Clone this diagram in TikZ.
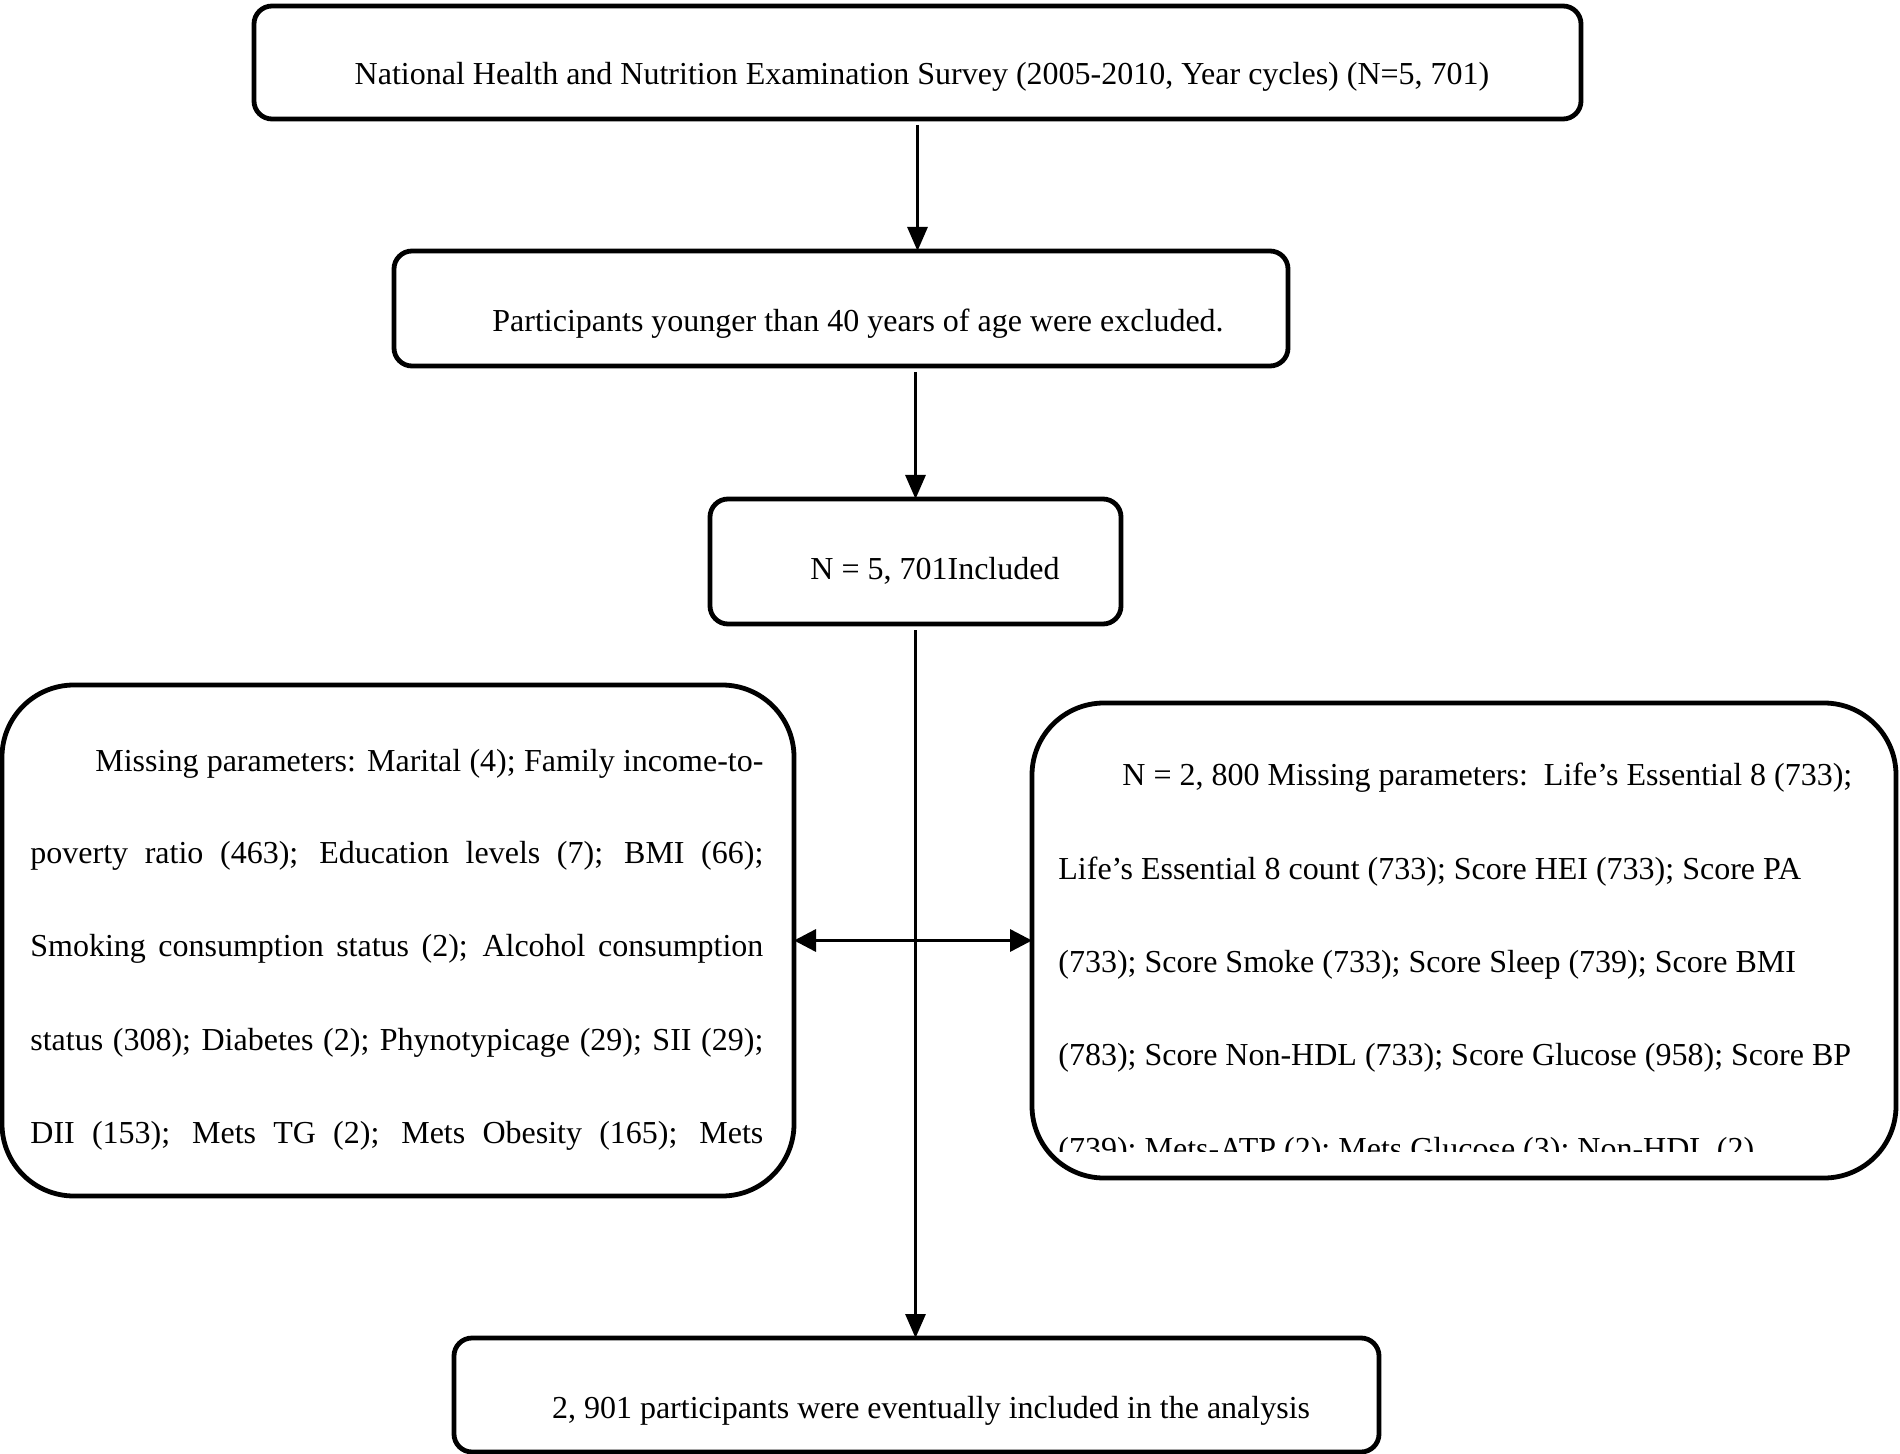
\documentclass[tikz,border=0pt]{standalone}
\usepackage{fontspec}
\setmainfont{Liberation Serif}
\usetikzlibrary{arrows.meta}
\begin{document}
\begin{tikzpicture}[x=0.5pt,y=-0.5pt,
  box/.style={draw, line width=2.4pt, rounded corners=9pt, inner sep=0pt, outer sep=0pt},
  bigbox/.style={draw, line width=2.4pt, rounded corners=36pt, inner sep=0pt, outer sep=0pt},
  txt/.style={inner sep=0pt, anchor=base, font=\fontsize{16pt}{19pt}\selectfont},
  ltxt/.style={txt, anchor=base west},
  arr/.style={line width=1.5pt, shorten <=3pt, -{Triangle[length=12pt,width=10pt]}},
  darr/.style={line width=1.7pt, {Triangle[length=11pt,width=11pt]}-{Triangle[length=11pt,width=11pt]}}]
\useasboundingbox (0,0) rectangle (1900,1454);

% boxes
\node[box, minimum width=663.5pt, minimum height=56.5pt] (b1) at (917.5,62.5) {};
\node[box, minimum width=447pt, minimum height=57.5pt] (b2) at (841,308.5) {};
\node[box, minimum width=205.5pt, minimum height=62.5pt] (b3) at (915.5,561.5) {};
\node[bigbox, minimum width=396pt, minimum height=255.5pt] (L) at (398,940.5) {};
\node[bigbox, minimum width=432pt, minimum height=237.5pt] (R) at (1464,940.5) {};
\node[box, minimum width=462.5pt, minimum height=57pt] (b5) at (916.5,1395) {};

% texts
\node[txt] (t1) at (922,85) {National Health and Nutrition Examination Survey (2005-2010, Year cycles) (N=5, 701)};
\node[txt] (t2) at (858,332) {Participants younger than 40 years of age were excluded.};
\node[txt] (t3) at (935,580) {N = 5, 701Included};
\node[txt] (t5) at (931,1418) {2, 901 participants were eventually included in the analysis};

\node[ltxt] (l1) at (95,771) {\makebox[334pt][s]{Missing parameters: Marital (4); Family income-to-}};
\node[ltxt] (l2) at (30,863) {\makebox[366.5pt][s]{poverty ratio (463); Education levels (7); BMI (66);}};
\node[ltxt] (l3) at (30,956) {\makebox[366.5pt][s]{Smoking consumption status (2); Alcohol consumption}};
\node[ltxt] (l4) at (30,1050) {\makebox[366.5pt][s]{status (308); Diabetes (2); Phynotypicage (29); SII (29);}};
\node[ltxt] (l5) at (30,1143) {\makebox[366.5pt][s]{DII (153); Mets TG (2); Mets Obesity (165); Mets}};

\begin{scope}
\clip (1032,703) rectangle (1896,1151);
\node[ltxt] (r1) at (1122,785) {N = 2, 800 Missing parameters:\ \ Life’s Essential 8 (733);};
\node[ltxt] (r2) at (1058,879) {Life’s Essential 8 count (733); Score HEI (733); Score PA};
\node[ltxt] (r3) at (1058,972) {(733); Score Smoke (733); Score Sleep (739); Score BMI};
\node[ltxt] (r4) at (1058,1065) {(783); Score Non-HDL (733); Score Glucose (958); Score BP};
\node[ltxt] (r5) at (1058,1159) {(739); Mets-ATP (2); Mets Glucose (3); Non-HDL (2)};
\end{scope}

% connectors
\draw[arr] (b1.south) -- (b1.south |- b2.north);
\draw[arr] (b3.north |- b2.south) -- (b3.north);
\draw[arr] (b3.south) -- (b3.south |- b5.north);
\draw[darr] (L.east) -- (R.west);
\end{tikzpicture}
\end{document}
